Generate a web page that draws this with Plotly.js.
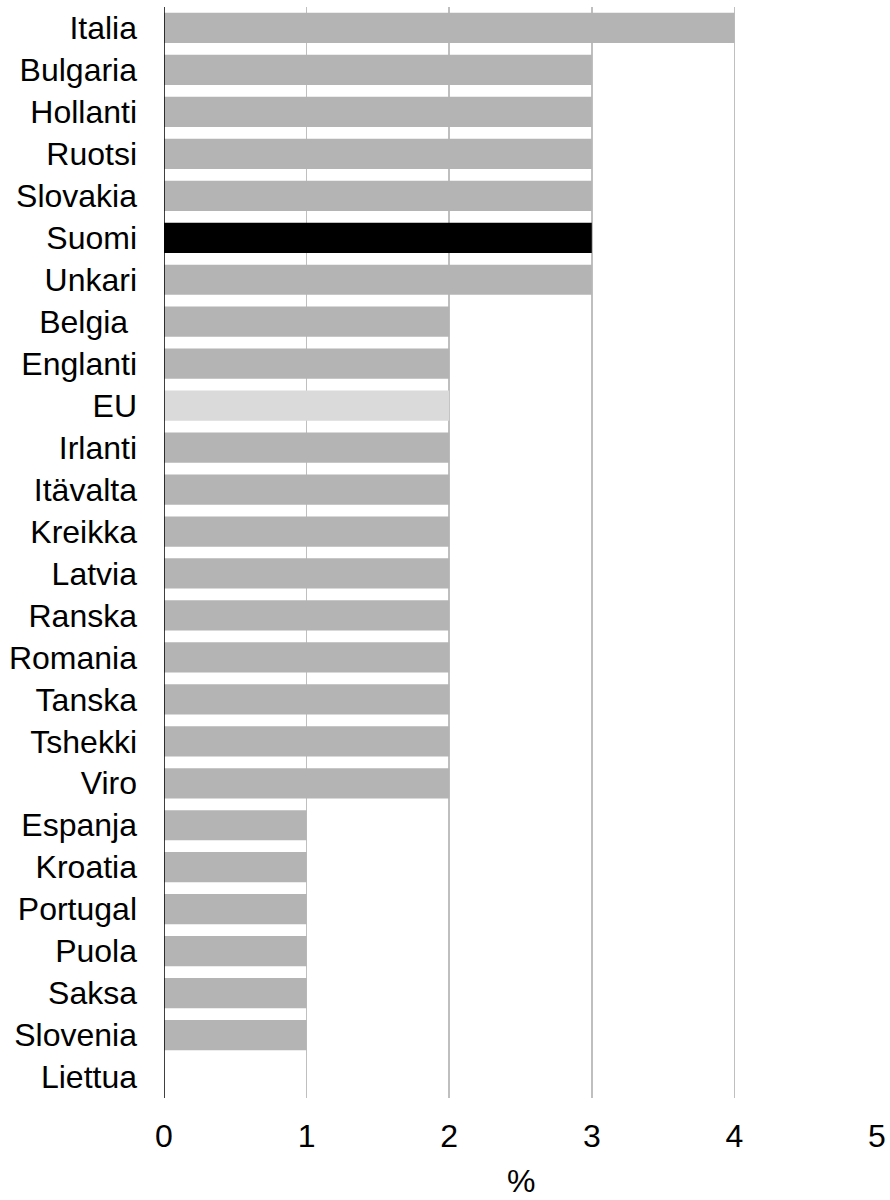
<!DOCTYPE html>
<html>
<head>
<meta charset="utf-8">
<script src="https://cdn.plot.ly/plotly-3.0.1.min.js"></script>
<style>html,body{margin:0;padding:0;background:#fff;}#chart{width:890px;height:1200px;}</style>
</head>
<body>
<div id="chart"></div>
<script>
const countries = ["Italia","Bulgaria","Hollanti","Ruotsi","Slovakia","Suomi","Unkari","Belgia ","Englanti","EU","Irlanti","Itävalta","Kreikka","Latvia","Ranska","Romania","Tanska","Tshekki","Viro","Espanja","Kroatia","Portugal","Puola","Saksa","Slovenia","Liettua"];
const values = [4,3,3,3,3,3,3,2,2,2,2,2,2,2,2,2,2,2,2,1,1,1,1,1,1,0];
const xTicks = [0,1,2,3,4,5];
const axisTitle = "%";

const barColors = countries.map(c => c === "Suomi" ? "#000000" : (c === "EU" ? "#dadada" : "#b4b4b4"));

const trace = {
  type: "bar",
  orientation: "h",
  x: values,
  y: countries,
  marker: {color: barColors, line: {width: 0}},
  hoverinfo: "x+y"
};

const layout = {
  width: 890,
  height: 1200,
  margin: {l: 164, r: 13, t: 7, b: 102},
  paper_bgcolor: "#ffffff",
  plot_bgcolor: "#ffffff",
  bargap: 0.28,
  showlegend: false,
  font: {family: "Liberation Sans, Arial, sans-serif", size: 32, color: "#000000"},
  xaxis: {
    range: [0, 5],
    tickvals: xTicks,
    ticktext: xTicks.map(String),
    showgrid: true,
    gridcolor: "#bfbfbf",
    gridwidth: 1.5,
    zeroline: false,
    showline: false,
    ticks: "",
    ticklabelstandoff: 16,
    tickfont: {size: 32, color: "#000000"}
  },
  yaxis: {
    type: "category",
    categoryorder: "array",
    categoryarray: countries,
    autorange: "reversed",
    showgrid: false,
    zeroline: false,
    showline: false,
    ticks: "",
    ticklabelstandoff: 26,
    tickfont: {size: 32, color: "#000000"}
  },
  annotations: [{
    text: axisTitle, xref: "paper", yref: "paper",
    x: 0.5, y: -0.0761, xanchor: "center", yanchor: "middle",
    showarrow: false, borderpad: 0, font: {size: 32, color: "#000000"}
  }],
  shapes: [{
    type: "line", xref: "x", yref: "paper",
    x0: 0, x1: 0, y0: 0, y1: 1,
    line: {color: "#000000", width: 1.5}
  }]
};

Plotly.newPlot("chart", [trace], layout, {displayModeBar: false, staticPlot: true});
</script>
</body>
</html>
